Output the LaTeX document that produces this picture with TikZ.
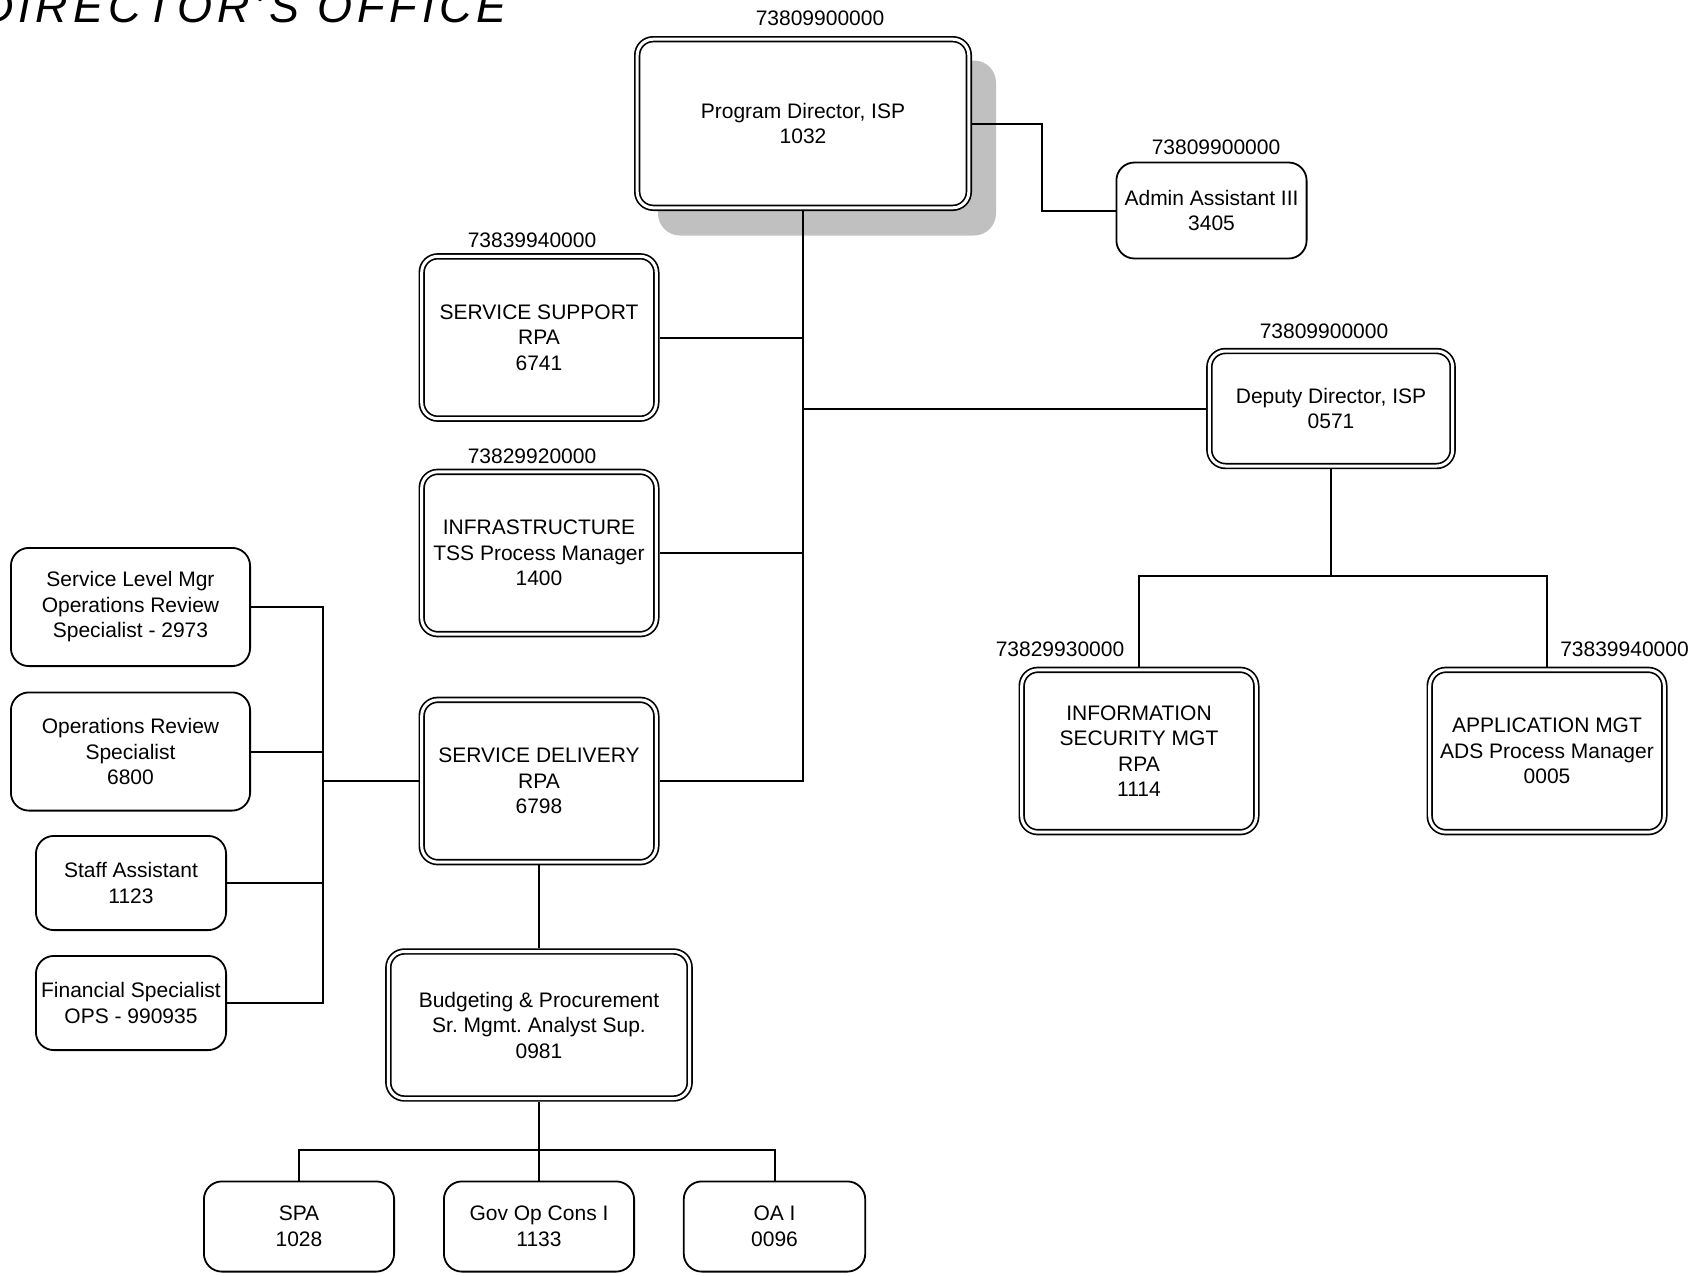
\documentclass[tikz,border=0pt]{standalone}
\usepackage{fontspec}
\setmainfont{Liberation Sans}
\usetikzlibrary{backgrounds,calc}
\frenchspacing
\definecolor{shadowgray}{RGB}{192,192,192}
\newcommand\orgfont{\fontsize{21pt}{25.5pt}\selectfont}
\newcommand\titlefont{\fontsize{45pt}{52pt}\selectfont\itshape\addfontfeatures{LetterSpace=11}}
\tikzstyle{every picture}=[x=1pt, y=-1pt, line width=2pt, font=\orgfont]
\tikzstyle{postbox}=[draw, fill=white, rounded corners=18pt, align=center,%
	inner sep=0pt, line width=1.8pt]
\tikzstyle{unitbox}=[postbox, double, double distance=3pt, line width=1.7pt,%
	rounded corners=16pt, outer sep=3.2pt]
\tikzstyle{sectionbox}=[unitbox, minimum width=234.6pt, minimum height=162.3pt]
\tikzstyle{deskbox}=[postbox, minimum width=190.2pt, minimum height=94.2pt]
\tikzstyle{codelabel}=[inner sep=0pt]

\begin{document}
\begin{tikzpicture}
\useasboundingbox (0,0) rectangle (1702,1275);
\node[anchor=base west, inner sep=0pt, font=\titlefont] (title) at (-20,22) {DIRECTOR{\char"27}S OFFICE};

% director, admin and deputy
\node[unitbox, minimum width=331.6pt, minimum height=168.6pt] (pd) at (803,123.5) {Program Director, ISP\\1032};
\begin{scope}[on background layer]
\fill[shadowgray, rounded corners=22pt] ($(pd.north west)+(24,24.5)$) rectangle ($(pd.south east)+(24,24.5)$);
\end{scope}
\node[deskbox, minimum height=96pt] (admin) at (1211.5,210.5) {Admin Assistant III\\3405};
\node[unitbox, minimum width=243.3pt, minimum height=115pt] (dd) at (1331,408.5) {Deputy Director, ISP\\0571};

% sections
\node[sectionbox] (ss) at (539,337.5) {SERVICE SUPPORT\\RPA\\6741};
\node[sectionbox, below of=ss, node distance=215.5pt] (infra) {INFRASTRUCTURE\\TSS Process Manager\\1400};
\node[sectionbox, below of=infra, node distance=228pt] (sd) {SERVICE DELIVERY\\RPA\\6798};
\node[unitbox, below of=sd, node distance=244pt, minimum width=301.3pt, minimum height=147pt] (bp)%
	{Budgeting \& Procurement\\Sr. Mgmt. Analyst Sup.\\0981};
\node[sectionbox] (infosec) at (1139,751) {INFORMATION\\SECURITY MGT\\RPA\\1114};
\node[sectionbox, right of=infosec, node distance=408pt] (app) {APPLICATION MGT\\ADS Process Manager\\0005};

% staff of service delivery
\node[postbox, minimum width=239.2pt, minimum height=118.2pt] (slm) at (130.5,607)%
	{Service Level Mgr\\Operations Review\\Specialist - 2973};
\node[postbox, minimum width=239.2pt, minimum height=118.2pt, below of=slm, node distance=144.5pt] (ors)%
	{Operations Review\\Specialist\\6800};
\node[deskbox] (staff) at (131,883) {Staff Assistant\\1123};
\node[deskbox, below of=staff, node distance=120pt] (fin) {Financial Specialist\\OPS - 990935};

% budgeting staff
\node[deskbox, minimum height=90.2pt] (spa) at (299,1226.5) {SPA\\1028};
\node[deskbox, minimum height=90.2pt, right of=spa, node distance=240pt] (gov) {Gov Op Cons I\\1133};
\node[deskbox, minimum height=90.2pt, minimum width=181.5pt, right of=gov, node distance=235.5pt] (oa) {OA I\\0096};

% org codes
\node[codelabel] (pdcode) at (820,18) {73809900000};
\node[codelabel] (admincode) at (1216,147) {73809900000};
\node[codelabel] (sscode) at (532,240) {73839940000};
\node[codelabel] (infracode) at (532,456) {73829920000};
\node[codelabel] (ddcode) at (1324,331.5) {73809900000};
\node[codelabel] (infoseccode) at (1060,649) {73829930000};
\node[codelabel] (appcode) at (1624.5,649) {73839940000};

% reporting lines
\draw (pd) |- (sd);
\draw (ss) -- (ss -| pd);
\draw (infra) -- (infra -| pd);
\draw (dd) -- (dd -| pd);
\draw (pd.east) -- ++(70,0) |- (admin);
\draw (dd.south) -- ++(0,107) coordinate (ddbus);
\foreach \n in {infosec,app}
	\draw (\n) |- (ddbus);
\draw (sd.west) -- ++(-95.5,0) coordinate (sdbus);
\foreach \n in {slm,ors,staff,fin}
	\draw (\n) -| (sdbus);
\draw (sd) -- (bp);
\draw (bp.south) -- ++(0,48) coordinate (bpbus);
\foreach \n in {spa,gov,oa}
	\draw (\n) |- (bpbus);
\end{tikzpicture}
\end{document}
